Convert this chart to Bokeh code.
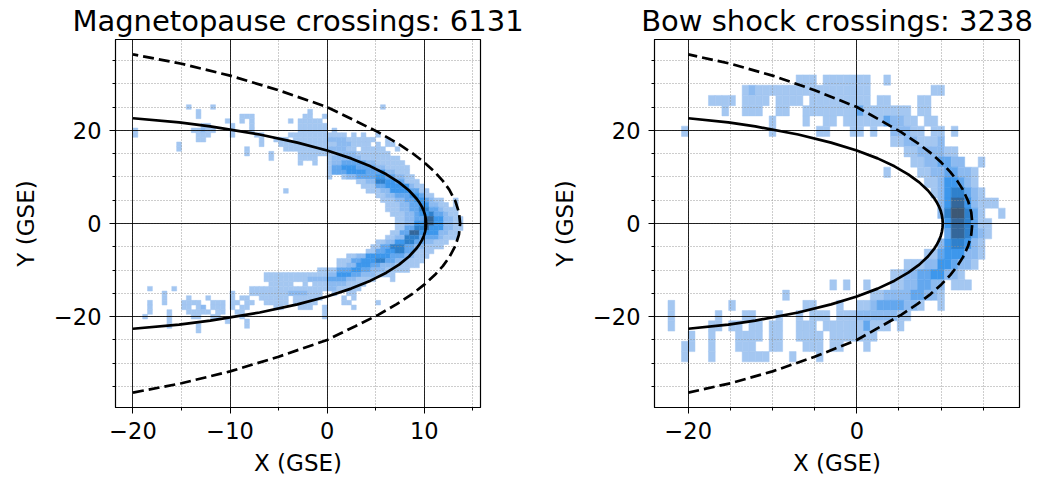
import math
from bokeh.plotting import figure
from bokeh.layouts import row
from bokeh.models import FixedTicker, Range1d, ColumnDataSource
from bokeh.embed import file_html
from bokeh.resources import INLINE

# ---- model boundaries, upper branch from the nose outwards (mirrored below) ----
MP_X = [10.2, 10.17, 10.09, 9.96, 9.77, 9.52, 9.22, 8.44, 7.41, 6.10, 4.47, 2.47, 0.0, -3.06, -6.95, -12.04, -15.25, -20.0]
MP_Y = [0.0, 0.89, 1.78, 2.67, 3.56, 4.44, 5.32, 7.08, 8.83, 10.56, 12.27, 13.98, 15.68, 17.37, 19.10, 20.85, 21.7, 22.6]
BS_X = [13.7, 13.58, 13.21, 12.58, 11.92, 11.08, 10.03, 8.75, 7.17, 5.26, 2.90, 0.0, -5.0, -10.0, -15.0, -20.0]
BS_Y = [0.0, 2.39, 4.81, 7.27, 9.15, 11.08, 13.08, 15.15, 17.32, 19.61, 22.05, 25.0, 28.6, 31.75, 34.3, 36.3]

MP_COUNT = 6131
BS_COUNT = 3238

# ---- 2-D histogram cells: (row centre y, x from, x to, shade level) ----
MP_GRID = dict(x0=-21.0, dx=0.5, dy=1.0)
MP_RUNS = [
    (25, -14.5, -14.5, 1), (25, -12, -12, 1), (25, 5.5, 5.5, 1),
    (24, -13.5, -13, 1), (24, -2, -1.5, 1),
    (23, -13.5, -13, 1), (23, -9, -7.5, 1), (23, -2.5, -1.5, 1), (23, -0.5, 0, 1),
    (22, -10.5, -10.5, 1), (22, -9, -8.5, 1), (22, -8, -7.5, 1), (22, -4, -4, 1), (22, -3, -0.5, 1),
    (21, -13, -12, 1), (21, -10, -10, 1), (21, -8, -7.5, 1), (21, -3, 0, 1),
    (20, -20, -20, 1), (20, -14, -11.5, 1), (20, -13, -12.5, 2), (20, -10, -9.5, 1), (20, -8, -7.5, 1), (20, -3, 0, 1), (20, 0.5, 1, 1),
    (19, -20, -20, 1), (19, -13.5, -12, 1), (19, -10, -10, 1), (19, -7.5, -6.5, 1), (19, -4, 2, 1), (19, 2.5, 3, 1), (19, 3.5, 4, 1), (19, 5, 5.5, 1),
    (18, -13.5, -12.5, 1), (18, -7, -6.5, 1), (18, -5.5, -4, 1), (18, -3.5, 5, 1), (18, 0, 2, 2), (18, 6, 6.5, 1),
    (17, -15.5, -15.5, 1), (17, -7, -6.5, 1), (17, -5, 4.5, 1), (17, 1, 2.5, 2), (17, 5, 5.5, 1), (17, 6, 7, 1),
    (16, -15.5, -15.5, 1), (16, -8.5, -8, 1), (16, -4.5, 3, 1), (16, 0, 2, 2), (16, 3.5, 6, 1), (16, 7, 7, 1),
    (15, -8.5, -8, 1), (15, -6, -6, 1), (15, -3, 6.5, 1), (15, 1, 3, 2),
    (14, -6, -6, 1), (14, -3, -1, 1), (14, 0, 7.5, 1), (14, 0.5, 2, 2), (14, 2, 3.5, 2),
    (13, -3, -2.5, 1), (13, -1.5, -1, 1), (13, 0, 8, 1), (13, 0.5, 1.5, 2), (13, 1.5, 4, 3), (13, 4, 5, 2),
    (12, 0, 8.5, 1), (12, 0.5, 1.5, 3), (12, 1.5, 3, 4), (12, 3, 5, 3), (12, 5, 6, 2),
    (11, 0, 8.5, 1), (11, 0.5, 2, 3), (11, 2, 4, 4), (11, 4, 5.5, 3), (11, 5.5, 6, 4), (11, 6, 7, 2),
    (10, 0, 0.5, 1), (10, 1.5, 9, 1), (10, 2, 3, 2), (10, 3, 5, 3), (10, 5, 6, 4), (10, 6, 7, 3), (10, 7, 8, 2),
    (9, 3, 9.5, 1), (9, 4, 5, 2), (9, 5, 6, 5), (9, 6, 7, 4), (9, 7, 8, 3),
    (8, 3.5, 10, 1), (8, 5, 6, 3), (8, 6, 8.5, 4), (8, 8.5, 9, 2),
    (7, -4.5, -4.5, 1), (7, 4, 10.5, 1), (7, 5.5, 6.5, 2), (7, 6.5, 8.5, 4), (7, 8.5, 9.5, 3),
    (6, 5, 11, 1), (6, 6, 7, 2), (6, 7, 8.5, 3), (6, 8.5, 9.5, 4), (6, 9.5, 10, 3),
    (5, 5.5, 12, 1), (5, 13, 13.5, 1), (5, 7, 8, 2), (5, 8, 9, 3), (5, 9, 10, 4), (5, 10, 10.5, 3), (5, 10.5, 11, 2),
    (4, 6, 12.5, 1), (4, 13, 13.5, 1), (4, 7.5, 8.5, 2), (4, 8.5, 9.5, 3), (4, 9.5, 10.5, 4), (4, 10.5, 11.5, 2),
    (3, 6, 13.5, 1), (3, 7.5, 8.5, 2), (3, 8.5, 9.5, 3), (3, 9.5, 10.5, 5), (3, 10.5, 11.5, 3), (3, 11.5, 12, 2),
    (2, 6.5, 13.5, 1), (2, 8, 9, 2), (2, 9, 9.5, 3), (2, 9.5, 10.5, 4), (2, 10.5, 11, 5), (2, 11, 12, 3), (2, 12, 12.5, 2),
    (1, 7, 14, 1), (1, 8, 9, 2), (1, 9, 10, 3), (1, 10, 11, 6), (1, 11, 12, 4), (1, 12, 13, 2),
    (0, 7, 14, 1), (0, 8, 9, 2), (0, 9, 10, 4), (0, 10, 11, 6), (0, 11, 12, 4), (0, 12, 13, 2),
    (-1, 7, 14, 1), (-1, 8, 9, 3), (-1, 9, 10, 5), (-1, 10, 10.5, 6), (-1, 10.5, 12, 4), (-1, 12, 13, 2),
    (-2, 6.5, 13.5, 1), (-2, 7.5, 8.5, 3), (-2, 8.5, 9.5, 6), (-2, 9.5, 11.5, 4), (-2, 11.5, 12.5, 2),
    (-3, 6, 13.5, 1), (-3, 7, 8, 2), (-3, 8, 9.5, 5), (-3, 9.5, 11.5, 3), (-3, 11.5, 12, 2),
    (-4, 5, 12.5, 1), (-4, 6, 7, 2), (-4, 7, 8, 4), (-4, 8, 9, 5), (-4, 9, 10, 3), (-4, 10, 11, 2),
    (-5, 4.5, 12, 1), (-5, 5.5, 6.5, 3), (-5, 6.5, 8, 5), (-5, 8, 9, 3), (-5, 9, 10, 2),
    (-6, 4, 11, 1), (-6, 5, 6, 3), (-6, 6, 7, 4), (-6, 7, 8, 5), (-6, 8, 9, 3),
    (-7, 2, 10.5, 1), (-7, 3, 4, 2), (-7, 4, 6.5, 4), (-7, 6.5, 8, 3), (-7, 8, 9, 2),
    (-8, 1, 10, 1), (-8, 2.5, 3.5, 3), (-8, 3.5, 5, 4), (-8, 5, 6, 5), (-8, 6, 7, 3), (-8, 7, 8, 2),
    (-9, 1, 9.5, 1), (-9, 2, 3, 2), (-9, 3, 4.5, 4), (-9, 4.5, 5.5, 3), (-9, 5.5, 7, 2),
    (-10, -1, 8.5, 1), (-10, 1, 2.5, 3), (-10, 2.5, 3.5, 4), (-10, 3.5, 4.5, 3), (-10, 4.5, 6, 2),
    (-11, -6.5, 7, 1), (-11, 0, 1, 2), (-11, 1, 2.5, 4), (-11, 2.5, 3.5, 3), (-11, 3.5, 5, 2),
    (-12, -6.5, 5, 1), (-12, 6.5, 6.5, 1), (-12, -2, 0, 2), (-12, 0, 2, 3), (-12, 2, 3, 2),
    (-13, -6, -3.5, 1), (-13, -2.5, -2, 1), (-13, -1.5, 4, 1), (-13, 0, 2, 2),
    (-14, -18.5, -18.5, 1), (-14, -16, -16, 1), (-14, -8, 3.5, 1), (-14, 0, 1, 2),
    (-15, -17, -17, 1), (-15, -10, -9.5, 1), (-15, -8, -0.5, 1), (-15, -4, -2, 2), (-15, 0.5, 1, 1), (-15, 2, 3, 1),
    (-16, -17, -17, 1), (-16, -14.5, -14, 1), (-16, -12.5, -12, 1), (-16, -10, -9.5, 1), (-16, -9, -8, 1),
    (-16, -7, -4, 1), (-16, -3.5, -0.5, 1), (-16, 1.5, 2, 1), (-16, 2.5, 3, 1),
    (-17, -18.5, -18.5, 1), (-17, -17, -17, 1), (-17, -15, -13, 1), (-17, -12, -10.5, 1), (-17, -10, -9, 1),
    (-17, -8.5, -7.5, 1), (-17, -6.5, -4, 1), (-17, -3.5, -1, 1), (-17, 1.5, 2.5, 1), (-17, 5, 5, 1),
    (-18, -18.5, -18.5, 1), (-18, -15, -14, 1), (-18, -13.5, -12.5, 1), (-18, -13, -13, 2), (-18, -12, -10.5, 1),
    (-18, -10, -9.5, 1), (-18, -9, -8, 1), (-18, -5.5, -4.5, 1), (-18, -3, -1.5, 1), (-18, -0.5, 0, 1), (-18, 2.5, 3, 1),
    (-19, -18.5, -18.5, 1), (-19, -16.5, -16.5, 1), (-19, -14.5, -12, 1), (-19, -11.5, -10.5, 1), (-19, -9.5, -8.5, 1), (-19, -0.5, -0.5, 1),
    (-20, -19, -19, 1), (-20, -16.5, -16.5, 1), (-20, -14, -13, 1), (-20, -12, -11, 1), (-20, -9, -8.5, 1), (-20, -0.5, -0.5, 1),
    (-21, -16.5, -16.5, 1), (-21, -10.5, -10.5, 1), (-21, -8.5, -8.5, 1),
    (-22, -16.5, -16, 1), (-22, -13.5, -13, 1), (-22, -8.5, -8.5, 1),
    (-23, -13.5, -13, 1),
]

BS_GRID = dict(x0=-22.4, dx=0.8, dy=2.2)
BS_RUNS = [
    (30.8, -7.2, -4.8, 1), (30.8, -4.0, 1.4, 1), (30.8, 3.2, 4.0, 1),
    (28.6, -13.6, -7.2, 1), (28.6, -12.8, -12.0, 2), (28.6, -7.2, 1.6, 1), (28.6, 9.0, 9.8, 1),
    (26.4, -17.6, -14.4, 1), (26.4, -13.6, -10.4, 1), (26.4, -9.6, -6.4, 1), (26.4, -5.6, 1.6, 1), (26.4, 2.4, 4.0, 1), (26.4, 7.2, 8.8, 1),
    (24.2, -16.0, -15.2, 1), (24.2, -13.6, -11.2, 1), (24.2, -9.6, -8.0, 1), (24.2, -6.4, -1.0, 1), (24.2, -0.8, 3.0, 1),
    (24.2, 0.0, 0.8, 3), (24.2, 3.2, 6.4, 1), (24.2, 7.2, 8.8, 1),
    (22.0, -10.4, -9.6, 1), (22.0, -6.4, -5.6, 1), (22.0, -4.0, -2.4, 1), (22.0, -1.6, 3.2, 1), (22.0, 3.2, 4.0, 3),
    (22.0, 4.0, 5.6, 2), (22.0, 5.6, 7.2, 1), (22.0, 8.0, 9.6, 1),
    (19.8, -20.8, -20.0, 1), (19.8, -10.4, -9.6, 1), (19.8, -4.8, -3.2, 1), (19.8, -0.8, 0.8, 1), (19.8, 1.6, 2.4, 1),
    (19.8, 4.0, 6.4, 2), (19.8, 6.4, 8.0, 1), (19.8, 8.8, 10.4, 1), (19.8, 11.2, 12.0, 1),
    (17.6, 4.0, 5.6, 1), (17.6, 5.6, 7.2, 2), (17.6, 7.2, 9.6, 1), (17.6, 9.6, 10.4, 2),
    (15.4, 5.6, 7.2, 1), (15.4, 7.2, 10.4, 2), (15.4, 10.4, 12.0, 1),
    (13.2, 6.4, 8.0, 1), (13.2, 8.0, 9.6, 2), (13.2, 9.6, 11.2, 3), (13.2, 11.2, 12.8, 2), (13.2, 14.4, 15.2, 1),
    (11.0, 3.2, 4.0, 1), (11.0, 7.2, 8.8, 1), (11.0, 8.8, 10.4, 2), (11.0, 10.4, 12.0, 3), (11.0, 12.0, 13.6, 2), (11.0, 13.6, 14.4, 1),
    (8.8, 8.0, 9.6, 1), (8.8, 9.6, 10.4, 2), (8.8, 10.4, 12.0, 4), (8.8, 12.0, 12.8, 3), (8.8, 12.8, 13.6, 2), (8.8, 13.6, 14.4, 1),
    (6.6, 8.8, 9.6, 1), (6.6, 9.6, 10.4, 2), (6.6, 10.4, 11.2, 4), (6.6, 11.2, 12.8, 5), (6.6, 12.8, 13.6, 3),
    (6.6, 13.6, 14.4, 2), (6.6, 14.4, 15.2, 1),
    (4.4, 9.6, 10.4, 2), (4.4, 10.4, 11.2, 4), (4.4, 11.2, 12.8, 6), (4.4, 12.8, 13.6, 4), (4.4, 13.6, 14.4, 2),
    (4.4, 14.4, 15.2, 1), (4.4, 15.6, 16.4, 1),
    (2.2, 9.6, 10.4, 2), (2.2, 10.4, 11.2, 5), (2.2, 11.2, 12.8, 7), (2.2, 12.8, 13.6, 5), (2.2, 13.6, 14.4, 3),
    (2.2, 14.4, 15.2, 1), (2.2, 16.8, 17.6, 1),
    (0.0, 10.4, 11.2, 4), (0.0, 11.2, 12.8, 6), (0.0, 12.8, 13.6, 5), (0.0, 13.6, 14.4, 3), (0.0, 14.4, 16.0, 1),
    (-2.2, 10.4, 11.2, 3), (-2.2, 11.2, 12.8, 6), (-2.2, 12.8, 13.6, 5), (-2.2, 13.6, 14.4, 3), (-2.2, 14.4, 15.2, 2), (-2.2, 15.2, 16.0, 1),
    (-4.4, 9.6, 10.4, 2), (-4.4, 10.4, 11.2, 4), (-4.4, 11.2, 12.8, 5), (-4.4, 12.8, 13.6, 4), (-4.4, 13.6, 14.4, 2), (-4.4, 14.4, 15.2, 1),
    (-6.6, 8.0, 9.6, 1), (-6.6, 9.6, 10.4, 3), (-6.6, 10.4, 12.8, 4), (-6.6, 12.8, 14.4, 2), (-6.6, 14.4, 15.2, 1),
    (-8.8, 5.6, 8.0, 1), (-8.8, 8.0, 9.6, 2), (-8.8, 9.6, 11.2, 4), (-8.8, 11.2, 12.0, 3), (-8.8, 12.0, 13.6, 2), (-8.8, 13.6, 14.4, 1),
    (-11.0, 4.0, 5.6, 1), (-11.0, 5.6, 7.2, 2), (-11.0, 7.2, 8.8, 3), (-11.0, 8.8, 10.4, 4), (-11.0, 10.4, 12.0, 2), (-11.0, 12.0, 12.8, 1),
    (-13.2, -3.2, -2.4, 1), (-13.2, -1.6, -0.8, 1), (-13.2, 0.8, 1.6, 1), (-13.2, 4.0, 5.6, 1), (-13.2, 5.6, 7.2, 2),
    (-13.2, 7.2, 8.8, 3), (-13.2, 8.8, 10.4, 2), (-13.2, 11.2, 13.6, 1),
    (-15.4, -8.8, -8.0, 1), (-15.4, 1.6, 3.2, 1), (-15.4, 3.2, 6.4, 2), (-15.4, 6.4, 8.0, 3), (-15.4, 8.0, 9.6, 2), (-15.4, 9.6, 10.4, 1),
    (-17.6, -22.4, -21.6, 1), (-17.6, -15.2, -14.4, 1), (-17.6, -6.4, -4.8, 1), (-17.6, -2.4, -1.6, 1), (-17.6, 0.0, 1.6, 1),
    (-17.6, 1.6, 2.4, 2), (-17.6, 2.4, 5.6, 3), (-17.6, 5.6, 7.2, 2), (-17.6, 7.2, 8.0, 1), (-17.6, 9.6, 10.4, 1),
    (-19.8, -22.4, -21.6, 1), (-19.8, -16.8, -16.0, 1), (-19.8, -13.6, -12.0, 1), (-19.8, -9.6, -8.8, 1), (-19.8, -7.2, -6.4, 1),
    (-19.8, -5.6, -3.2, 1), (-19.8, -2.4, 0.0, 1), (-19.8, 0.0, 4.8, 2), (-19.8, 4.8, 6.4, 1),
    (-22.0, -22.4, -21.6, 1), (-22.0, -17.6, -16.0, 1), (-22.0, -15.2, -13.6, 1), (-22.0, -12.8, -11.2, 1), (-22.0, -10.4, -8.8, 1),
    (-22.0, -7.2, -4.8, 1), (-22.0, -4.0, 0.8, 1), (-22.0, 0.8, 1.6, 3), (-22.0, 1.6, 4.0, 1), (-22.0, 4.8, 5.6, 1),
    (-24.2, -20.0, -19.2, 1), (-24.2, -17.6, -16.8, 1), (-24.2, -14.4, -11.2, 1), (-24.2, -10.4, -8.8, 1), (-24.2, -7.2, -4.0, 1),
    (-24.2, -3.2, 2.4, 1),
    (-26.4, -20.8, -19.2, 1), (-26.4, -17.6, -16.8, 1), (-26.4, -14.4, -12.0, 1), (-26.4, -10.4, -8.8, 1), (-26.4, -6.4, -4.0, 1),
    (-26.4, -3.2, -1.6, 1), (-26.4, 0.8, 1.6, 1),
    (-28.6, -20.8, -20.0, 1), (-28.6, -17.6, -16.8, 1), (-28.6, -13.6, -10.4, 1), (-28.6, -8.0, -7.2, 1), (-28.6, -4.8, -4.0, 1),
]

SHADES = ["#a4c7f1", "#8cbaf0", "#63a7ee", "#3d97ec", "#2f80cc", "#34679a", "#3d5875"]


def cells_from_runs(runs, grid):
    x0, dx, dy = grid["x0"], grid["dx"], grid["dy"]
    cells = {}
    for yc, xa, xb, lvl in runs:
        i0 = math.floor((xa - x0) / dx + 1e-9)
        i1 = max(i0, math.ceil((xb - x0) / dx - 1e-9) - 1)
        for i in range(i0, i1 + 1):
            cells[(i, yc)] = lvl
    left, right, bottom, top, color = [], [], [], [], []
    for (i, yc), lvl in cells.items():
        left.append(x0 + i * dx)
        right.append(x0 + (i + 1) * dx)
        bottom.append(yc - dy / 2)
        top.append(yc + dy / 2)
        color.append(SHADES[lvl - 1])
    return ColumnDataSource(dict(left=left, right=right, bottom=bottom, top=top, color=color))


def mirrored(xs, ys):
    return xs[::-1] + xs[1:], [-v for v in ys[::-1]] + ys[1:]


MINUS = "\u2212"
FONT = "DejaVu Sans"


def panel(title, runs, grid, x_range, xticks, border_left, border_right):
    p = figure(frame_width=365, frame_height=368,
               x_range=Range1d(*x_range), y_range=Range1d(-39.5, 39.5),
               output_backend="svg", toolbar_location=None,
               min_border_left=border_left, min_border_right=border_right,
               min_border_top=39, min_border_bottom=75)
    p.background_fill_color = "white"
    p.border_fill_color = "white"
    p.outline_line_color = "black"
    p.outline_line_width = 1.2
    p.outline_line_alpha = 1.0

    p.title.text = title
    p.title.align = "center"
    p.title.text_font = FONT
    p.title.text_font_size = "29px"
    p.title.text_font_style = "normal"
    p.title.text_color = "black"
    p.title.standoff = 3

    src = cells_from_runs(runs, grid)
    p.quad(left="left", right="right", bottom="bottom", top="top", source=src,
           fill_color="color", line_color="color", line_width=0.5, level="image")

    mx, my = mirrored(MP_X, MP_Y)
    bx, by = mirrored(BS_X, BS_Y)
    p.line(mx, my, line_color="black", line_width=2.7)
    p.line(bx, by, line_color="black", line_width=2.7, line_dash="11 5")

    xminor = list(range(-20, 20, 5))
    p.xaxis.ticker = FixedTicker(ticks=xticks, minor_ticks=xminor)
    p.yaxis.ticker = FixedTicker(ticks=[-20, 0, 20], minor_ticks=list(range(-35, 40, 5)))
    p.xgrid.ticker = p.xaxis.ticker
    p.ygrid.ticker = p.yaxis.ticker
    p.xaxis.major_label_overrides = {t: (MINUS + str(-t) if t < 0 else str(t)) for t in xticks}
    p.yaxis.major_label_overrides = {-20: MINUS + "20", 0: "0", 20: "20"}

    for g in (p.xgrid, p.ygrid):
        g.grid_line_color = "black"
        g.grid_line_width = 1
        g.grid_line_alpha = 0.85
        g.minor_grid_line_color = "#8f8f8f"
        g.minor_grid_line_width = 0.9
        g.minor_grid_line_dash = "1 2"

    p.xaxis.axis_label = "X (GSE)"
    p.yaxis.axis_label = "Y (GSE)"
    for ax in (p.xaxis, p.yaxis):
        ax.axis_label_text_font = FONT
        ax.axis_label_text_font_size = "23px"
        ax.axis_label_text_font_style = "normal"
        ax.axis_label_text_color = "black"
        ax.major_label_text_font = FONT
        ax.major_label_text_font_size = "22.5px"
        ax.major_label_text_color = "black"
        ax.axis_line_color = "black"
        ax.major_tick_line_color = "black"
        ax.minor_tick_line_color = "black"
        ax.major_tick_out = 6
        ax.major_tick_in = 0
        ax.minor_tick_out = 3
        ax.minor_tick_in = 0
    p.xaxis.major_label_standoff = 8
    p.xaxis.axis_label_standoff = 8
    p.yaxis.major_label_standoff = 8
    p.yaxis.axis_label_standoff = 12
    return p


# left figure is wide enough on its right for its title; the right one starts later
p1 = panel(f"Magnetopause crossings: {MP_COUNT}", MP_RUNS, MP_GRID, (-21.8, 15.8), [-20, -10, 0, 10], 115, 60)
p2 = panel(f"Bow shock crossings: {BS_COUNT}", BS_RUNS, BS_GRID, (-24.0, 19.3), [-20, 0], 114, 19)

layout = row(p1, p2)
open("out.html", "w").write(file_html(layout, INLINE))
